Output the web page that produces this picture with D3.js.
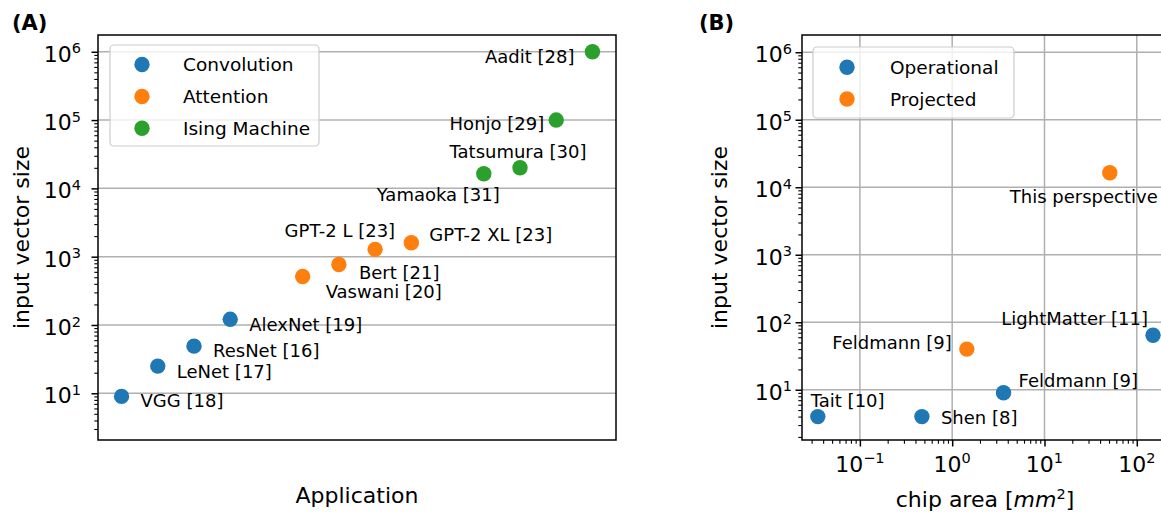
<!DOCTYPE html>
<html>
<head>
<meta charset="utf-8">
<script src="https://cdn.jsdelivr.net/npm/d3@7.9.0/dist/d3.min.js"></script>
<style>
  body { margin: 0; background: #fff; }
  svg { display: block; font-family: "DejaVu Sans", sans-serif; }
  .domain { display: none; }
</style>
</head>
<body>
<div id="chart"></div>
<script>
// panel A: input vector size per application
const appNames = ["VGG [18]", "LeNet [17]", "ResNet [16]", "AlexNet [19]",
  "Vaswani [20]", "Bert [21]", "GPT-2 L [23]", "GPT-2 XL [23]",
  "Yamaoka [31]", "Tatsumura [30]", "Honjo [29]", "Aadit [28]"];
const appSlots = [0, 1, 2, 3, 5, 6, 7, 8, 10, 11, 12, 13];
const appSizes = [9, 25, 49, 121, 512, 768, 1280, 1600, 16384, 20000, 100000, 1000000];
const appKinds = ["Convolution", "Convolution", "Convolution", "Convolution",
  "Attention", "Attention", "Attention", "Attention",
  "Ising Machine", "Ising Machine", "Ising Machine", "Ising Machine"];
const appKindList = ["Convolution", "Attention", "Ising Machine"];

// panel B: input vector size vs chip area
const chipNames = ["Tait [10]", "Shen [8]", "Feldmann [9]", "Feldmann [9]", "LightMatter [11]", "This perspective"];
const chipAreas = [0.035, 0.47, 1.44, 3.6, 150, 51];
const chipSizes = [4, 4, 40, 9, 64, 16384];
const chipStatus = ["Operational", "Operational", "Projected", "Operational", "Operational", "Projected"];
const statusList = ["Operational", "Projected"];

const yTickValues = [1e1, 1e2, 1e3, 1e4, 1e5, 1e6];
const xTickValuesB = [1e-1, 1e0, 1e1, 1e2];

// label placement (anchor, dx, dy relative to the dot)
const appLabelPos = [
  ["start", 19, 11], ["start", 19, 12], ["start", 19, 11], ["start", 19, 12],
  ["start", 23, 21], ["start", 20, 14], ["end", 20, -12], ["start", 18, -2],
  ["end", 16, 27], ["middle", -2, -10], ["end", -12, 10], ["end", -18, 11]
];
const chipLabelPos = [
  ["start", -7, -10], ["start", 19, 7], ["end", -15, 0],
  ["start", 15, -6], ["end", -5, -10], ["start", -100, 30]
];

const colors = ["#1f77b4", "#ff7f0e", "#2ca02c"];
const gridColor = "#b0b0b0";

const svg = d3.select("#chart").append("svg")
  .attr("width", 1161).attr("height", 515);

const supers = { "-": "\u2212" };
function expOf(v) { return String(Math.round(Math.log10(v))).replace("-", supers["-"]); }

function minorTicks(domain) {
  const out = [];
  const lo = Math.floor(Math.log10(domain[0])), hi = Math.ceil(Math.log10(domain[1]));
  for (let e = lo; e <= hi; e++) {
    for (let m = 2; m <= 9; m++) {
      const v = m * Math.pow(10, e);
      if (v >= domain[0] && v <= domain[1]) out.push(v);
    }
  }
  return out;
}

function drawYAxis(g, y, left, labelGap) {
  g.append("g").attr("transform", `translate(${left},0)`)
    .call(d3.axisLeft(y).tickValues(minorTicks(y.domain())).tickFormat("").tickSize(3.7))
    .selectAll("line").attr("stroke", "#000").attr("stroke-width", 1.1);
  g.append("g").attr("transform", `translate(${left},0)`)
    .call(d3.axisLeft(y).tickValues(yTickValues).tickFormat("").tickSize(6.5))
    .selectAll("line").attr("stroke", "#000").attr("stroke-width", 1.5);
  const t = g.append("g").selectAll("text").data(yTickValues).join("text")
    .attr("x", left - labelGap)
    .attr("y", d => y(d) + 10)
    .attr("text-anchor", "end")
    .attr("font-size", 22)
    .attr("fill", "#000");
  t.append("tspan").text("10");
  t.append("tspan").attr("dy", -8.4).attr("font-size", 14.5).text(d => expOf(d));
}

function drawFrame(g, x0, x1, y0, y1) {
  g.append("rect").attr("x", x0).attr("y", y0)
    .attr("width", x1 - x0).attr("height", y1 - y0)
    .attr("fill", "none").attr("stroke", "#000").attr("stroke-width", 1.5);
}

function drawLegend(g, box, items, mx, tx, rows) {
  g.append("rect").attr("x", box[0]).attr("y", box[1])
    .attr("width", box[2]).attr("height", box[3]).attr("rx", 4)
    .attr("fill", "#fff").attr("fill-opacity", 0.8)
    .attr("stroke", "#cccccc").attr("stroke-width", 1.2);
  items.forEach((name, i) => {
    g.append("circle").attr("cx", mx).attr("cy", rows[i]).attr("r", 7.7).attr("fill", colors[i]);
    g.append("text").attr("x", tx).attr("y", rows[i] + 6.5)
      .attr("font-size", 18.5).attr("fill", "#000").text(name);
  });
}

// ---------- Panel A ----------
const A = { left: 98, right: 616, top: 35, bottom: 440 };
const xA = d3.scaleLinear().domain([-0.65, 13.65]).range([A.left, A.right]);
const yA = d3.scaleLog().domain([2.07, 1.76e6]).range([A.bottom, A.top]);
const gA = svg.append("g");

gA.append("g").selectAll("line").data(yTickValues).join("line")
  .attr("x1", A.left).attr("x2", A.right)
  .attr("y1", d => yA(d)).attr("y2", d => yA(d))
  .attr("stroke", gridColor).attr("stroke-width", 1.5);

drawYAxis(gA, yA, A.left, 17);

gA.append("g").selectAll("circle").data(appNames).join("circle")
  .attr("cx", (d, i) => xA(appSlots[i]))
  .attr("cy", (d, i) => yA(appSizes[i]))
  .attr("r", 7.7)
  .attr("fill", (d, i) => colors[appKindList.indexOf(appKinds[i])]);

drawFrame(gA, A.left, A.right, A.top, A.bottom);
drawLegend(gA, [110, 45, 209, 101], appKindList, 142, 183, [64.5, 96.5, 128.3]);

gA.append("g").selectAll("text").data(appNames).join("text")
  .attr("x", (d, i) => xA(appSlots[i]) + appLabelPos[i][1])
  .attr("y", (d, i) => yA(appSizes[i]) + appLabelPos[i][2])
  .attr("text-anchor", (d, i) => appLabelPos[i][0])
  .attr("font-size", 18).attr("fill", "#000")
  .text(d => d);

gA.append("text").attr("x", (A.left + A.right) / 2).attr("y", 503)
  .attr("text-anchor", "middle").attr("font-size", 22).text("Application");
gA.append("text")
  .attr("transform", `translate(29,${(A.top + A.bottom) / 2}) rotate(-90)`)
  .attr("text-anchor", "middle").attr("font-size", 22).text("input vector size");
gA.append("text").attr("x", 12).attr("y", 30)
  .attr("font-size", 21).attr("font-weight", "bold").text("(A)");

// ---------- Panel B ----------
const B = { left: 802, right: 1170, top: 35, bottom: 440 };
const xB = d3.scaleLog().domain([0.0236, 229]).range([B.left, B.right]);
const yB = d3.scaleLog().domain([1.8, 1.8e6]).range([B.bottom, B.top]);
const gB = svg.append("g");

gB.append("g").selectAll("line").data(yTickValues).join("line")
  .attr("x1", B.left).attr("x2", B.right)
  .attr("y1", d => yB(d)).attr("y2", d => yB(d))
  .attr("stroke", gridColor).attr("stroke-width", 1.5);
gB.append("g").selectAll("line").data(xTickValuesB).join("line")
  .attr("x1", d => xB(d)).attr("x2", d => xB(d))
  .attr("y1", B.top).attr("y2", B.bottom)
  .attr("stroke", gridColor).attr("stroke-width", 1.5);

drawYAxis(gB, yB, B.left, 10);

gB.append("g").attr("transform", `translate(0,${B.bottom})`)
  .call(d3.axisBottom(xB).tickValues(minorTicks(xB.domain())).tickFormat("").tickSize(3.7))
  .selectAll("line").attr("stroke", "#000").attr("stroke-width", 1.1);
gB.append("g").attr("transform", `translate(0,${B.bottom})`)
  .call(d3.axisBottom(xB).tickValues(xTickValuesB).tickFormat("").tickSize(6.5))
  .selectAll("line").attr("stroke", "#000").attr("stroke-width", 1.5);
const xl = gB.append("g").selectAll("text").data(xTickValuesB).join("text")
  .attr("x", d => xB(d)).attr("y", 471.7)
  .attr("text-anchor", "middle").attr("font-size", 22).attr("fill", "#000");
xl.append("tspan").text("10");
xl.append("tspan").attr("dy", -8.4).attr("font-size", 14.5).text(d => expOf(d));

gB.append("g").selectAll("circle").data(chipNames).join("circle")
  .attr("cx", (d, i) => xB(chipAreas[i]))
  .attr("cy", (d, i) => yB(chipSizes[i]))
  .attr("r", 7.7)
  .attr("fill", (d, i) => colors[statusList.indexOf(chipStatus[i])]);

drawFrame(gB, B.left, B.right, B.top, B.bottom);
drawLegend(gB, [813, 47, 201, 71], statusList, 847, 890, [67.3, 99]);

gB.append("g").selectAll("text").data(chipNames).join("text")
  .attr("x", (d, i) => xB(chipAreas[i]) + chipLabelPos[i][1])
  .attr("y", (d, i) => yB(chipSizes[i]) + chipLabelPos[i][2])
  .attr("text-anchor", (d, i) => chipLabelPos[i][0])
  .attr("font-size", 18).attr("fill", "#000")
  .text(d => d);

const xlab = gB.append("text").attr("x", 985).attr("y", 507)
  .attr("text-anchor", "middle").attr("font-size", 22);
xlab.append("tspan").text("chip area [");
xlab.append("tspan").attr("font-style", "italic").text("mm");
xlab.append("tspan").attr("dy", -8.4).attr("font-size", 14.5).text("2");
xlab.append("tspan").attr("dy", 8.4).text("]");
gB.append("text")
  .attr("transform", `translate(727,${(B.top + B.bottom) / 2}) rotate(-90)`)
  .attr("text-anchor", "middle").attr("font-size", 22).text("input vector size");
gB.append("text").attr("x", 699).attr("y", 30)
  .attr("font-size", 21).attr("font-weight", "bold").text("(B)");
</script>
</body>
</html>
